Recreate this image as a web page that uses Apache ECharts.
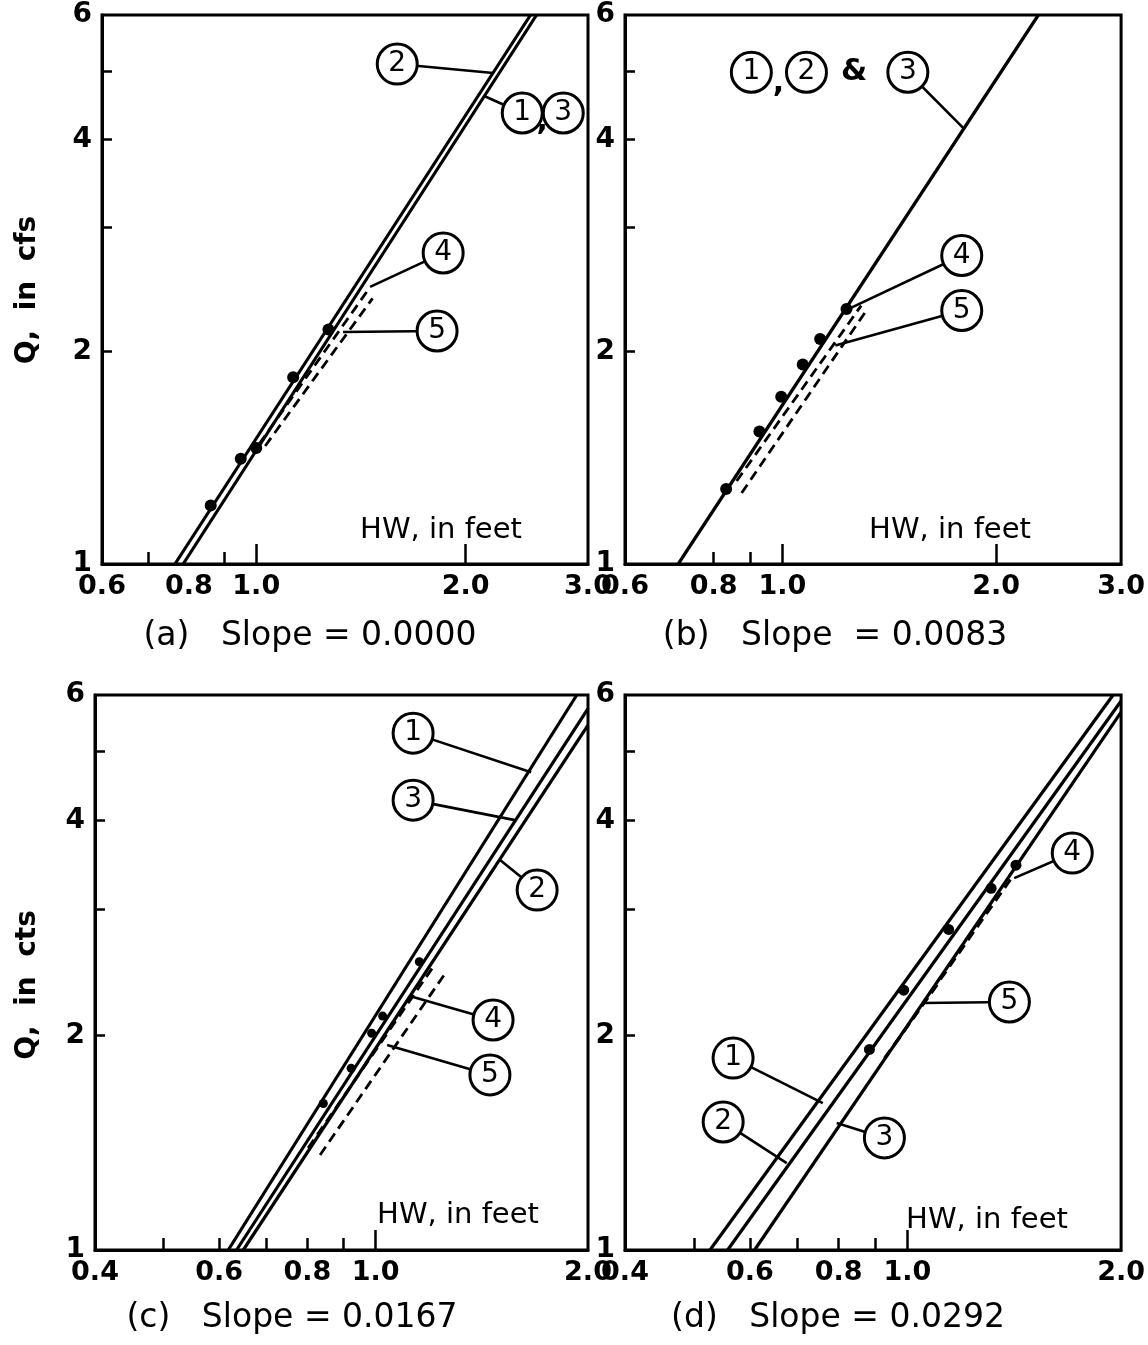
<!DOCTYPE html>
<html><head><meta charset="utf-8">
<script src="https://cdn.jsdelivr.net/npm/echarts@6/dist/echarts.min.js"></script>
<style>html,body{margin:0;padding:0;background:#fff}#c{width:1148px;height:1345px}</style>
</head><body><div id="c"></div>
<script>
// ---------- axis ticks / labels ----------
const xLabelsAB = [0.6, 0.8, 1.0, 2.0, 3.0];
const xMajorA = [1.0, 2.0];
const xMinorA = [0.7, 0.9];
const xMajorB = [1.0, 2.0];
const xMinorB = [0.8, 0.9];
const xLabelsCD = [0.4, 0.6, 0.8, 1.0, 2.0];
const xMajorCD = [1.0];
const xMinorCD = [0.5, 0.6, 0.7, 0.8, 0.9];
const yLabels = [1, 2, 4, 6];
const yTicks = [2, 3, 4, 5];

// ---------- panel (a) slope 0.0000 ----------
const aPtsHW = [0.86, 0.95, 1.00, 1.13, 1.27];
const aPtsQ = [1.21, 1.41, 1.46, 1.84, 2.15];
const aLine2HW = [0.764, 2.48], aLine2Q = [1, 6];
const aLine13HW = [0.785, 2.53], aLine13Q = [1, 6];
const aLine4HW = [1.01, 1.45], aLine4Q = [1.48, 2.45];
const aLine5HW = [1.03, 1.47], aLine5Q = [1.47, 2.38];
const aTagText = ['2', '1', '3', '4', '5'];
const aTagHW = [1.595, 2.413, 2.764, 1.857, 1.820];
const aTagQ = [5.112, 4.357, 4.357, 2.760, 2.139];
const aLeadHW = [2.191, 2.127, null, 1.458, 1.333];
const aLeadQ = [4.965, 4.606, null, 2.470, 2.132];
const aNoteText = [','], aNoteHW = [2.578], aNoteQ = [4.23];

// ---------- panel (b) slope 0.0083 ----------
const bPtsHW = [0.833, 0.928, 0.996, 1.068, 1.130, 1.231];
const bPtsQ = [1.277, 1.541, 1.726, 1.917, 2.084, 2.299];
const bLine123HW = [0.713, 2.294], bLine123Q = [1, 6];
const bLine4HW = [0.862, 1.291], bLine4Q = [1.311, 2.324];
const bLine5HW = [0.876, 1.307], bLine5Q = [1.261, 2.272];
const bTagText = ['1', '2', '3', '4', '5'];
const bTagHW = [0.904, 1.081, 1.502, 1.789, 1.789];
const bTagQ = [4.978, 4.978, 4.978, 2.737, 2.287];
const bLeadHW = [null, null, 1.800, 1.242, 1.187];
const bLeadQ = [null, null, 4.145, 2.301, 2.040];
const bNoteText = [',', '&'], bNoteHW = [0.987, 1.262], bNoteQ = [4.786, 4.978];

// ---------- panel (c) slope 0.0167 ----------
const cPtsHW = [0.843, 0.923, 0.987, 1.023, 1.153];
const cPtsQ = [1.605, 1.798, 2.013, 2.128, 2.536];
const cLine1HW = [0.618, 1.928], cLine1Q = [1, 6];
const cLine3HW = [0.635, 2.0], cLine3Q = [1, 5.744];
const cLine2HW = [0.649, 2.0], cLine2Q = [1, 5.444];
const cLine4HW = [0.802, 1.206], cLine4Q = [1.390, 2.493];
const cLine5HW = [0.834, 1.250], cLine5Q = [1.359, 2.429];
const cTagText = ['1', '3', '2', '4', '5'];
const cTagHW = [1.130, 1.130, 1.694, 1.467, 1.452];
const cTagQ = [5.305, 4.273, 3.196, 2.101, 1.760];
const cLeadHW = [1.661, 1.576, 1.501, 1.130, 1.038];
const cLeadQ = [4.677, 4.006, 3.521, 2.263, 1.938];

// ---------- panel (d) slope 0.0292 ----------
const dPtsHW = [0.884, 0.988, 1.143, 1.312, 1.422];
const dPtsQ = [1.911, 2.314, 2.815, 3.214, 3.464];
const dLine1HW = [0.527, 1.949], dLine1Q = [1, 6];
const dLine2HW = [0.558, 2.0], dLine2Q = [1, 5.885];
const dLine3HW = [0.609, 2.0], dLine3Q = [1, 5.677];
const dLine4HW = [0.959, 1.405], dLine4Q = [1.938, 3.333];
const dLine5HW = [0.928, 1.109], dLine5Q = [1.858, 2.375];
const dTagText = ['1', '2', '3', '4', '5'];
const dTagHW = [0.568, 0.550, 0.928, 1.707, 1.392];
const dTagQ = [1.858, 1.512, 1.436, 3.602, 2.227];
const dLeadHW = [0.760, 0.676, 0.795, 1.414, 1.050];
const dLeadQ = [1.607, 1.324, 1.507, 3.322, 2.220];

// ---------- layout ----------
const FONT = 'DejaVu Sans';
const pair = (xs, ys) => xs.map((v, i) => [v, ys[i]]);

const panels = [
  { grid: {left: 102, top: 15, width: 486, height: 549}, xMin: 0.6, xMax: 3.0,
    xLabels: xLabelsAB, xMajor: xMajorA, xMinor: xMinorA,
    solid: [[aLine2HW, aLine2Q], [aLine13HW, aLine13Q]],
    dashed: [[aLine4HW, aLine4Q], [aLine5HW, aLine5Q]],
    pts: [aPtsHW, aPtsQ], ptSize: 12,
    tags: [aTagText, aTagHW, aTagQ, aLeadHW, aLeadQ],
    notes: [aNoteText, aNoteHW, aNoteQ] },
  { grid: {left: 625, top: 15, width: 498, height: 549}, xMin: 0.6, xMax: 3.0,
    xLabels: xLabelsAB, xMajor: xMajorB, xMinor: xMinorB,
    solid: [[bLine123HW, bLine123Q]],
    dashed: [[bLine4HW, bLine4Q], [bLine5HW, bLine5Q]],
    pts: [bPtsHW, bPtsQ], ptSize: 12,
    tags: [bTagText, bTagHW, bTagQ, bLeadHW, bLeadQ],
    notes: [bNoteText, bNoteHW, bNoteQ] },
  { grid: {left: 95, top: 695, width: 493, height: 555}, xMin: 0.4, xMax: 2.0,
    xLabels: xLabelsCD, xMajor: xMajorCD, xMinor: xMinorCD,
    solid: [[cLine1HW, cLine1Q], [cLine3HW, cLine3Q], [cLine2HW, cLine2Q]],
    dashed: [[cLine4HW, cLine4Q], [cLine5HW, cLine5Q]],
    pts: [cPtsHW, cPtsQ], ptSize: 9,
    tags: [cTagText, cTagHW, cTagQ, cLeadHW, cLeadQ],
    notes: [[], [], []] },
  { grid: {left: 625, top: 695, width: 497, height: 555}, xMin: 0.4, xMax: 2.0,
    xLabels: xLabelsCD, xMajor: xMajorCD, xMinor: xMinorCD,
    solid: [[dLine1HW, dLine1Q], [dLine2HW, dLine2Q], [dLine3HW, dLine3Q]],
    dashed: [[dLine4HW, dLine4Q], [dLine5HW, dLine5Q]],
    pts: [dPtsHW, dPtsQ], ptSize: 11,
    tags: [dTagText, dTagHW, dTagQ, dLeadHW, dLeadQ],
    notes: [[], [], []] }
];

const grids = [], xAxes = [], yAxes = [], series = [];
panels.forEach((p, i) => {
  grids.push(Object.assign({show: true, borderColor: '#000', borderWidth: 3, backgroundColor: 'transparent'}, p.grid));
  const baseX = {type: 'log', logBase: 10, gridIndex: i, min: p.xMin, max: p.xMax, position: 'bottom',
    splitLine: {show: false}, minorTick: {show: false}, minorSplitLine: {show: false}};
  xAxes.push(Object.assign({}, baseX, {
    axisLine: {show: true, lineStyle: {color: '#000', width: 3}},
    axisTick: {show: true, inside: true, length: 20, customValues: p.xMajor, lineStyle: {color: '#000', width: 2.5}},
    axisLabel: {show: true, customValues: p.xLabels, formatter: v => Number(v).toFixed(1),
      fontSize: 27, fontWeight: 'bold', color: '#000', fontFamily: FONT, margin: 9, showMinLabel: true, showMaxLabel: true}
  }));
  xAxes.push(Object.assign({}, baseX, {
    axisLine: {show: false},
    axisTick: {show: true, inside: true, length: 12, customValues: p.xMinor, lineStyle: {color: '#000', width: 2.5}},
    axisLabel: {show: false}
  }));
  yAxes.push({type: 'log', logBase: 10, gridIndex: i, min: 1, max: 6,
    splitLine: {show: false}, minorTick: {show: false},
    axisLine: {show: true, lineStyle: {color: '#000', width: 3}},
    axisTick: {show: true, inside: true, length: 10, customValues: yTicks, lineStyle: {color: '#000', width: 2.5}},
    axisLabel: {show: true, customValues: yLabels, formatter: v => String(Math.round(v)),
      fontSize: 28, fontWeight: 'bold', color: '#000', fontFamily: FONT, margin: 10, showMinLabel: true, showMaxLabel: true}
  });
  const xi = 2 * i, yi = i;
  const common = {xAxisIndex: xi, yAxisIndex: yi, animation: false, silent: true};
  p.solid.forEach(([hw, q]) => series.push(Object.assign({type: 'line', data: pair(hw, q), symbol: 'none', clip: true, z: 3,
    lineStyle: {color: '#000', width: 3.2}}, common)));
  p.dashed.forEach(([hw, q]) => series.push(Object.assign({type: 'line', data: pair(hw, q), symbol: 'none', clip: true, z: 3,
    lineStyle: {color: '#000', width: 2.8, type: [10, 6]}}, common)));
  series.push(Object.assign({type: 'scatter', data: pair(p.pts[0], p.pts[1]), symbol: 'circle', symbolSize: p.ptSize,
    itemStyle: {color: '#000', opacity: 1}, z: 4}, common));
  const [tt, th, tq, lh, lq] = p.tags;
  tt.forEach((t, k) => {
    if (lh[k] != null) series.push(Object.assign({type: 'line', data: [[th[k], tq[k]], [lh[k], lq[k]]], symbol: 'none', z: 5,
      lineStyle: {color: '#000', width: 2.6}}, common));
  });
  series.push(Object.assign({type: 'scatter', symbol: 'circle', symbolSize: 40, z: 6,
    data: tt.map((t, k) => ({name: t, value: [th[k], tq[k]]})),
    itemStyle: {color: '#fff', borderColor: '#000', borderWidth: 3, opacity: 1},
    label: {show: true, position: 'inside', formatter: '{b}', fontSize: 28, color: '#000', fontFamily: FONT,
      textBorderWidth: 0, textBorderColor: 'transparent'}}, common));
  const [nt, nh, nq] = p.notes;
  if (nt.length) series.push(Object.assign({type: 'scatter', symbolSize: 1, z: 6,
    data: nt.map((t, k) => ({name: t, value: [nh[k], nq[k]]})),
    itemStyle: {color: 'rgba(0,0,0,0)', opacity: 1},
    label: {show: true, position: 'inside', formatter: '{b}', fontSize: 30, fontWeight: 'bold', color: '#000', fontFamily: FONT,
      opacity: 1, textBorderWidth: 0, textBorderColor: 'transparent'}}, common));
});

const txt = (x, y, text, font, rot) => ({type: 'text', x: x, y: y, rotation: rot || 0,
  style: {text: text, font: font, fill: '#000', textAlign: 'center', textVerticalAlign: 'middle'}});
const graphics = [
  txt(28, 290, 'Q,  in  cfs', 'bold 28px "' + FONT + '"', Math.PI / 2),
  txt(28, 985, 'Q,  in  cts', 'bold 28px "' + FONT + '"', Math.PI / 2),
  txt(441, 530, 'HW, in feet', '29px "' + FONT + '"'),
  txt(950, 530, 'HW, in feet', '29px "' + FONT + '"'),
  txt(458, 1215, 'HW, in feet', '29px "' + FONT + '"'),
  txt(987, 1220, 'HW, in feet', '29px "' + FONT + '"'),
  txt(310, 636, '(a)   Slope = 0.0000', '33px "' + FONT + '"'),
  txt(835, 636, '(b)   Slope  = 0.0083', '33px "' + FONT + '"'),
  txt(292, 1318, '(c)   Slope = 0.0167', '33px "' + FONT + '"'),
  txt(838, 1318, '(d)   Slope = 0.0292', '33px "' + FONT + '"')
];

const chart = echarts.init(document.getElementById('c'), null, {renderer: 'canvas'});
chart.setOption({
  animation: false,
  backgroundColor: '#fff',
  grid: grids, xAxis: xAxes, yAxis: yAxes, series: series,
  graphic: graphics
});
</script>
</body></html>
